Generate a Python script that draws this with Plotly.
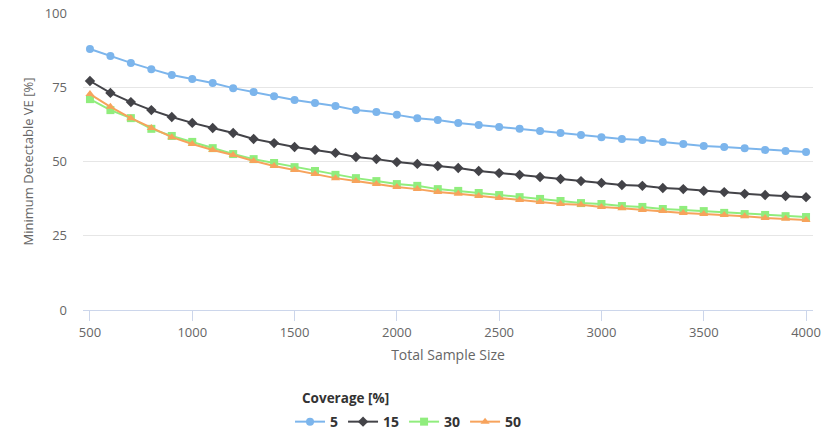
import plotly.graph_objects as go

sample_size = list(range(500, 4001, 100))

cov_5 = [87.9, 85.5, 83.2, 81.1, 79.1, 77.8, 76.4, 74.7, 73.4, 72.0, 70.7, 69.7, 68.7, 67.3, 66.7, 65.7,
         64.6, 64.0, 63.0, 62.3, 61.6, 61.0, 60.3, 59.6, 58.9, 58.2, 57.6, 57.2, 56.6, 55.9, 55.2, 54.9,
         54.5, 53.9, 53.5, 53.2]
cov_15 = [77.1, 73.1, 70.0, 67.3, 65.0, 63.0, 61.3, 59.6, 57.6, 56.2, 54.9, 53.9, 52.9, 51.5, 50.8, 49.8,
          49.2, 48.5, 47.8, 46.8, 46.1, 45.5, 44.8, 44.1, 43.4, 42.8, 42.1, 41.8, 41.1, 40.7, 40.1, 39.7,
          39.1, 38.7, 38.4, 38.0]
cov_30 = [71.0, 67.3, 64.6, 61.0, 58.6, 56.6, 54.5, 52.5, 50.8, 49.5, 48.1, 46.8, 45.5, 44.4, 43.4, 42.4,
          41.8, 40.7, 40.1, 39.4, 38.7, 38.0, 37.4, 36.7, 36.0, 35.7, 35.0, 34.7, 34.0, 33.7, 33.3, 32.7,
          32.3, 32.0, 31.6, 31.3]
cov_50 = [72.7, 68.4, 64.6, 61.3, 58.2, 55.9, 53.9, 52.2, 50.2, 48.5, 47.1, 45.8, 44.4, 43.4, 42.4, 41.4,
          40.7, 39.7, 39.1, 38.4, 37.7, 37.0, 36.4, 35.7, 35.4, 34.7, 34.3, 33.7, 33.3, 32.7, 32.3, 32.0,
          31.6, 31.0, 30.7, 30.3]

series_names = ["5", "15", "30", "50"]
series_values = [cov_5, cov_15, cov_30, cov_50]
colors = ["#7cb5ec", "#434348", "#90ed7d", "#f7a35c"]
symbols = ["circle", "diamond", "square", "triangle-up"]
sizes = [8, 8, 8, 8]

x_tick_vals = [500, 1000, 1500, 2000, 2500, 3000, 3500, 4000]
y_tick_vals = [0, 25, 50, 75, 100]

FONT = "Open Sans, Lucida Grande, sans-serif"

fig = go.Figure()
for name, vals, c, s, sz in zip(series_names, series_values, colors, symbols, sizes):
    fig.add_trace(go.Scatter(
        x=sample_size, y=vals, name=name, mode="lines+markers",
        line=dict(color=c, width=2),
        marker=dict(color=c, symbol=s, size=sz, line=dict(width=0)),
    ))

fig.add_annotation(
    text="<b>Coverage [%]</b>", xref="paper", yref="paper",
    x=0.2973, xanchor="left", y=-0.2963, yanchor="middle",
    showarrow=False, font=dict(size=13.5, color="#333333", family=FONT),
)

fig.update_layout(
    width=825, height=436,
    margin=dict(l=83, r=12, t=13, b=126),
    paper_bgcolor="white", plot_bgcolor="white",
    font=dict(family=FONT, color="#666666", size=13),
    showlegend=True,
    legend=dict(
        orientation="h", x=0.2836, xanchor="left",
        yref="container", y=0.032, yanchor="middle",
        font=dict(size=14, color="#333333", family=FONT, weight="bold"),
        itemwidth=30, tracegroupgap=0,
    ),
    xaxis=dict(
        range=[466, 4034], tickvals=x_tick_vals, automargin=False,
        showgrid=False, zeroline=False,
        showline=True, linecolor="#ccd6eb", linewidth=1,
        ticks="outside", ticklen=10, tickcolor="#ccd6eb", tickwidth=1,
        tickfont=dict(size=13, color="#666666"),
        title=dict(text="Total Sample Size", font=dict(size=14, color="#666666"), standoff=10),
    ),
    yaxis=dict(
        range=[0, 100], tickvals=y_tick_vals, automargin=False,
        showgrid=True, gridcolor="#e6e6e6", gridwidth=1,
        zeroline=False, showline=False,
        ticks="", ticklabelstandoff=15,
        tickfont=dict(size=13, color="#666666"),
        title=dict(text="Minimum Detectable VE [%]", font=dict(size=13, color="#666666"), standoff=8),
    ),
)

fig.write_html("out.html", config={"displayModeBar": False},
               post_script="document.body.style.margin='0px';")
